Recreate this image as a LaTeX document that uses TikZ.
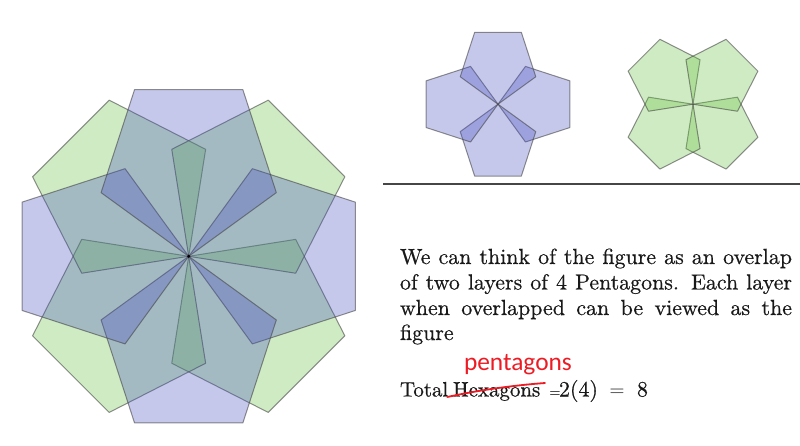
\documentclass[tikz,border=0pt]{standalone}
\usepackage{fontspec}
\newfontfamily\redfont{Carlito}
\newfontfamily\bodyfont{lmroman10-regular.otf}[FakeBold=0.5]
\definecolor{pblue}{RGB}{65,75,192}
\definecolor{pgreen}{RGB}{98,192,58}
\definecolor{pred}{RGB}{237,28,36}
\definecolor{edgegray}{RGB}{70,70,70}
\definecolor{rulegray}{RGB}{70,70,70}
\definecolor{textblack}{RGB}{25,25,25}
\tikzset{
  pentbase/.style={draw=edgegray, draw opacity=0.6, line width=1bp, line join=round, fill opacity=0.3},
  pentblue/.style={pentbase, fill=pblue},
  pentgreen/.style={pentbase, fill=pgreen},
  bodytext/.style={anchor=base west, inner sep=0pt, outer sep=0pt, text=textblack, font=\bodyfont\fontsize{22}{26}\selectfont},
  totaltext/.style={bodytext, font=\bodyfont\fontsize{21}{25}\selectfont},
  redtext/.style={anchor=base west, inner sep=0pt, outer sep=0pt, text=pred, font=\redfont\fontsize{25.5}{30}\selectfont},
}
% style, cx, cy, side, axis angle
\newcommand\drawpent[5]{%
  \draw[#1, shift={(#2,#3)}] (0,0) -- (#5-54:#4) -- (#5-18:1.618*#4) -- (#5+18:1.618*#4) -- (#5+54:#4) -- cycle;
}
\begin{document}
\begin{tikzpicture}[x=1bp, y=-1bp]
  \useasboundingbox (0,0) rectangle (800,446);
  \fill[white] (0,0) rectangle (800,446);

  % big figure
  \foreach \a in {45,135,225,315} {\drawpent{pentgreen}{188.7}{256.3}{108.3}{\a}}
  \foreach \a in {0,90,180,270} {\drawpent{pentblue}{188.7}{256.3}{108.3}{\a}}
  \fill[black] (188.7,256.3) circle (1.6);

  % blue layer
  \foreach \a in {0,90,180,270} {\drawpent{pentblue}{498}{104.2}{46.7}{\a}}
  % green layer
  \foreach \a in {45,135,225,315} {\drawpent{pentgreen}{693}{104.2}{45}{\a}}

  % rule
  \coordinate (ruleL) at (383.3,184.3);
  \coordinate (ruleR) at (800,184.3);
  \draw[rulegray, line width=2bp] (ruleL) -- (ruleR);

  % text
  \node[bodytext] (l1) at (400,264) {\makebox[392bp][s]{We can think of the figure as an overlap}};
  \node[bodytext] (l2) at (400,289.5) {\makebox[392bp][s]{of two layers of 4 Pentagons. Each layer}};
  \node[bodytext] (l3) at (400,315) {\makebox[392bp][s]{when overlapped can be viewed as the}};
  \node[bodytext] (l4) at (400,340) {figure};

  \node[redtext] (pent) at (464,371) {pentagons};

  \node[totaltext] (tot) at (400,396.5) {Total};
  \node[totaltext] (hex) at (453,396.5) {Hexagons};
  \node[totaltext, font=\bodyfont\fontsize{14}{16}\selectfont] (eq1) at (549.5,396.5) {=};
  \node[bodytext] (two) at (559,396.5) {2(4)};
  \node[bodytext] (eq2) at (609.5,396.5) {$=$};
  \node[bodytext] (eight) at (637,396.5) {8};

  % red strike-through
  \coordinate (s1) at (447.3,397);
  \coordinate (s2) at (545,383);
  \draw[pred, line width=1.8bp, line cap=round] (s1) .. controls (470,392) and (505,386) .. (s2);
\end{tikzpicture}
\end{document}
